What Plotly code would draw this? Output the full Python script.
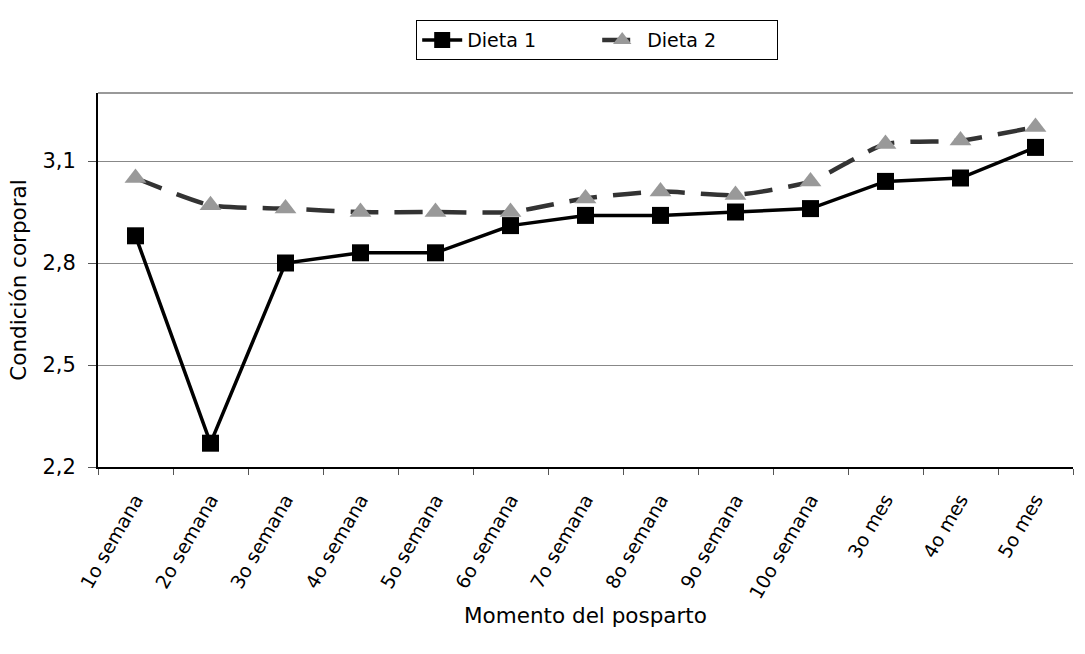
import plotly.graph_objects as go

categories = ["1o semana", "2o semana", "3o semana", "4o semana", "5o semana",
              "6o semana", "7o semana", "8o semana", "9o semana", "10o semana",
              "3o mes", "4o mes", "5o mes"]
dieta1 = [2.88, 2.27, 2.80, 2.83, 2.83, 2.91, 2.94, 2.94, 2.95, 2.96, 3.04, 3.05, 3.14]
dieta2 = [3.05, 2.97, 2.96, 2.95, 2.95, 2.95, 2.99, 3.01, 3.00, 3.04, 3.15, 3.16, 3.20]
y_ticks = [2.2, 2.5, 2.8, 3.1]

FONT = "DejaVu Sans, Verdana, sans-serif"

fig = go.Figure()
fig.add_trace(go.Scatter(
    x=categories, y=dieta1, name="Dieta 1", mode="lines+markers",
    line=dict(color="black", width=3.5),
    marker=dict(symbol="square", size=17, color="black"),
))
fig.add_trace(go.Scatter(
    x=categories, y=dieta2, name="Dieta 2", mode="lines+markers",
    line=dict(color="#333333", width=4.5, dash="28px,16px", shape="spline", smoothing=0.6),
    marker=dict(symbol="triangle-up", size=19, color="#999999"),
))

fig.update_layout(
    width=1085, height=654,
    margin=dict(l=98, r=12, t=93, b=187),
    paper_bgcolor="white", plot_bgcolor="white",
    font=dict(family=FONT, size=20, color="black"),
    separators=", ",
    showlegend=True,
    legend=dict(
        orientation="h", x=0.512, xanchor="center", y=1.195, yanchor="top",
        bordercolor="black", borderwidth=1, bgcolor="white",
        font=dict(size=19), entrywidth=125, itemwidth=40,
    ),
    xaxis=dict(
        title=dict(text="Momento del posparto", font=dict(size=21.5), standoff=6),
        tickangle=-60, tickson="boundaries", ticks="outside", ticklen=6,
        tickcolor="#555555", showline=True, linecolor="black", linewidth=2,
        showgrid=False, tickfont=dict(size=19), ticklabelstandoff=12,
        range=[-0.5, 12.5],
    ),
    yaxis=dict(
        title=dict(text="Condición corporal", font=dict(size=21.5), standoff=10),
        range=[2.2, 3.3], tickvals=y_ticks, tickformat=".1f",
        ticks="outside", ticklen=8, tickcolor="#555555",
        showline=True, linecolor="black", linewidth=2,
        showgrid=True, gridcolor="#888888", gridwidth=1, zeroline=False,
        tickfont=dict(size=21), ticklabelstandoff=8,
    ),
)

# Top border of the plotting area
fig.add_shape(type="line", xref="paper", yref="paper", x0=0, x1=1, y0=1, y1=1,
              line=dict(color="#999999", width=2))

fig.write_html("out.html")
